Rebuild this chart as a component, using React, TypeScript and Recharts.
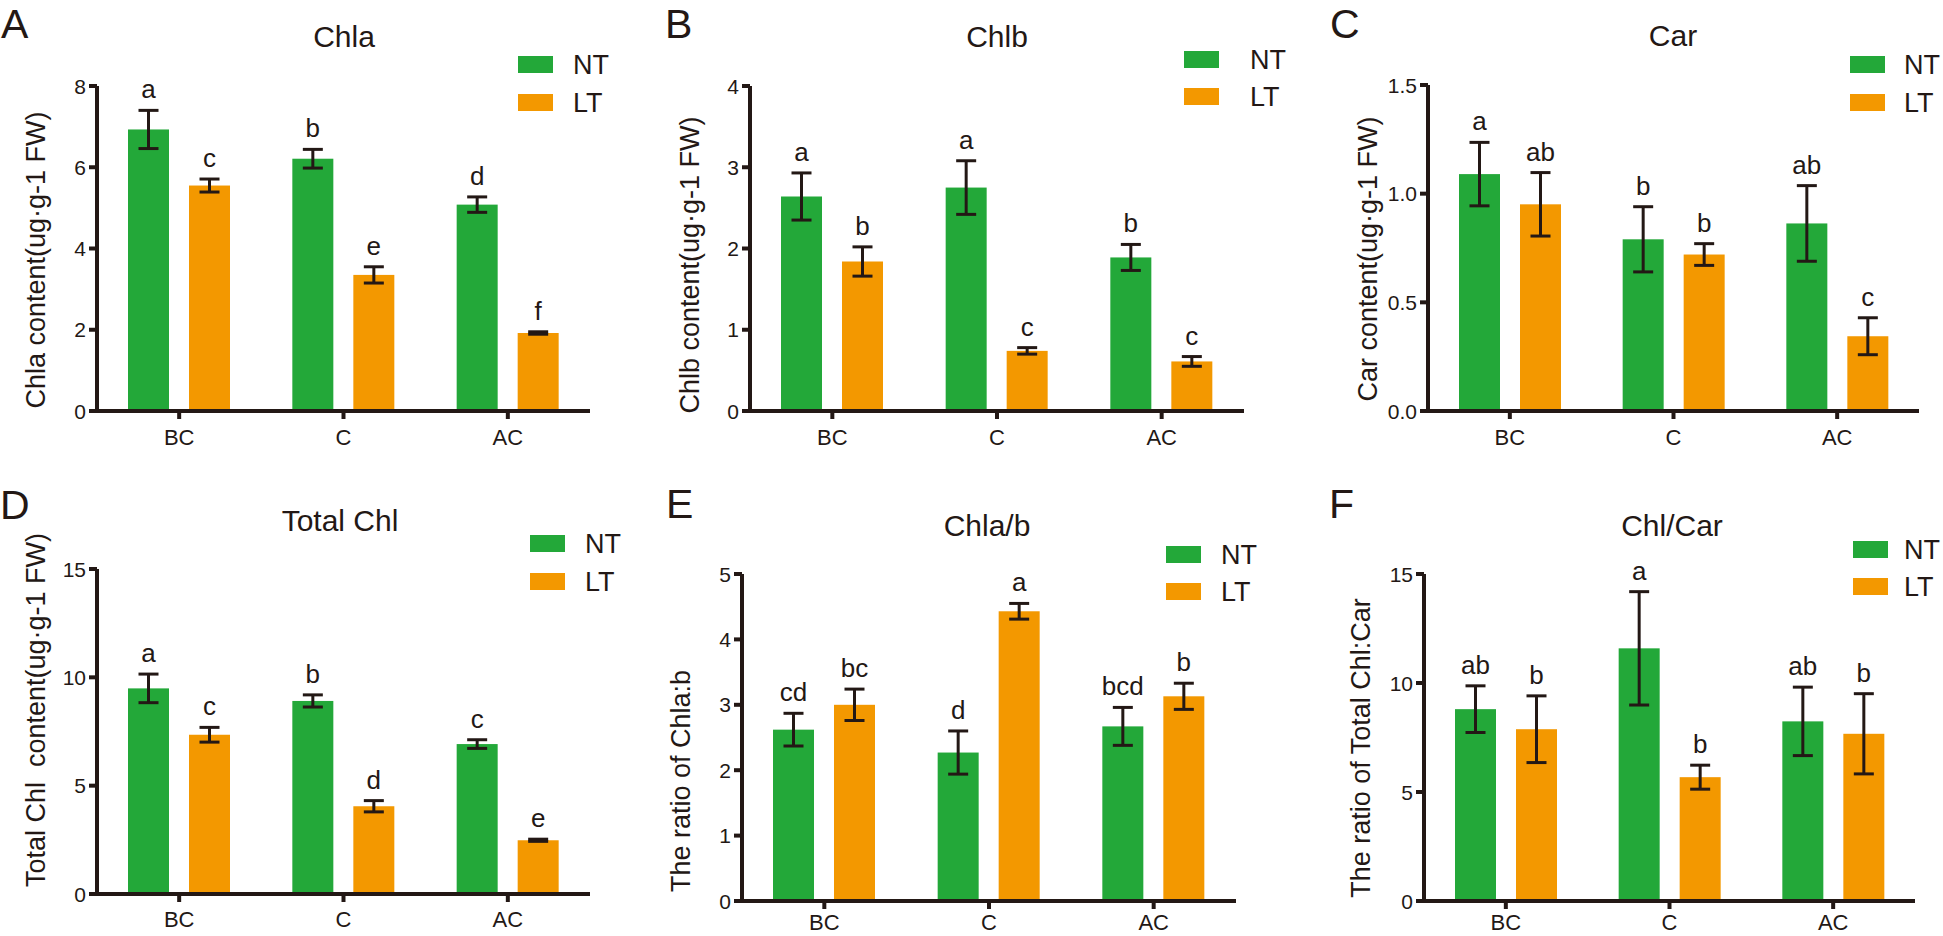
import React from "react";
import { BarChart, Bar, XAxis, YAxis, ErrorBar } from "recharts";

const FONT = "'Liberation Sans', Arial, Helvetica, sans-serif";
const INK = "#231815";
const GREEN = "#23A839";
const ORANGE = "#F39800";

const categories = ["BC", "C", "AC"];

// A  Chla
const chlaNT = [6.93, 6.21, 5.08];
const chlaNTErr = [0.47, 0.23, 0.19];
const chlaLT = [5.55, 3.35, 1.92];
const chlaLTErr = [0.16, 0.2, 0.03];
const chlaNTSig = ["a", "b", "d"];
const chlaLTSig = ["c", "e", "f"];
const chlaTicks = [0, 2, 4, 6, 8];

// B  Chlb
const chlbNT = [2.64, 2.75, 1.89];
const chlbNTErr = [0.29, 0.33, 0.16];
const chlbLT = [1.84, 0.74, 0.61];
const chlbLTErr = [0.18, 0.04, 0.06];
const chlbNTSig = ["a", "a", "b"];
const chlbLTSig = ["b", "c", "c"];
const chlbTicks = [0, 1, 2, 3, 4];

// C  Car
const carNT = [1.09, 0.79, 0.863];
const carNTErr = [0.146, 0.15, 0.174];
const carLT = [0.951, 0.72, 0.344];
const carLTErr = [0.146, 0.05, 0.085];
const carNTSig = ["a", "b", "ab"];
const carLTSig = ["ab", "b", "c"];
const carTicks = [0, 0.5, 1.0, 1.5];

// D  Total Chl
const totNT = [9.49, 8.91, 6.92];
const totNTErr = [0.66, 0.28, 0.2];
const totLT = [7.35, 4.05, 2.48];
const totLTErr = [0.34, 0.26, 0.05];
const totNTSig = ["a", "b", "c"];
const totLTSig = ["c", "d", "e"];
const totTicks = [0, 5, 10, 15];

// E  Chla/b
const abNT = [2.62, 2.27, 2.67];
const abNTErr = [0.25, 0.33, 0.29];
const abLT = [3.0, 4.43, 3.13];
const abLTErr = [0.24, 0.12, 0.2];
const abNTSig = ["cd", "d", "bcd"];
const abLTSig = ["bc", "a", "b"];
const abTicks = [0, 1, 2, 3, 4, 5];

// F  Chl/Car
const ccNT = [8.8, 11.59, 8.24];
const ccNTErr = [1.07, 2.6, 1.57];
const ccLT = [7.88, 5.68, 7.67];
const ccLTErr = [1.53, 0.55, 1.84];
const ccNTSig = ["ab", "a", "ab"];
const ccLTSig = ["b", "b", "b"];
const ccTicks = [0, 5, 10, 15];

type Panel = {
  letter: string;
  title: string;
  yLabel: string;
  nt: number[];
  ntErr: number[];
  lt: number[];
  ltErr: number[];
  ntSig: string[];
  ltSig: string[];
  ticks: number[];
  decimals: number;
  plot: { left: number; top: number; bottom: number; width: number };
  xTickMargin: number;
  letterPos: [number, number];
  titlePos: [number, number];
  legend: { sx: number; ntY: number; ltY: number; tx: number };
  yLabelPos: [number, number];
};

const panels: Panel[] = [
  {
    letter: "A", title: "Chla", yLabel: "Chla content(ug·g-1 FW)",
    nt: chlaNT, ntErr: chlaNTErr, lt: chlaLT, ltErr: chlaLTErr, ntSig: chlaNTSig, ltSig: chlaLTSig,
    ticks: chlaTicks, decimals: 0,
    plot: { left: 97, top: 86, bottom: 411, width: 493 },
    xTickMargin: 10,
    letterPos: [1, 38], titlePos: [344, 47],
    legend: { sx: 518, ntY: 56, ltY: 94, tx: 573 },
    yLabelPos: [45, 260],
  },
  {
    letter: "B", title: "Chlb", yLabel: "Chlb content(ug·g-1 FW)",
    nt: chlbNT, ntErr: chlbNTErr, lt: chlbLT, ltErr: chlbLTErr, ntSig: chlbNTSig, ltSig: chlbLTSig,
    ticks: chlbTicks, decimals: 0,
    plot: { left: 750, top: 86, bottom: 411, width: 494 },
    xTickMargin: 10,
    letterPos: [665, 38], titlePos: [997, 47],
    legend: { sx: 1184, ntY: 51, ltY: 88, tx: 1250 },
    yLabelPos: [699, 265],
  },
  {
    letter: "C", title: "Car", yLabel: "Car content(ug·g-1 FW)",
    nt: carNT, ntErr: carNTErr, lt: carLT, ltErr: carLTErr, ntSig: carNTSig, ltSig: carLTSig,
    ticks: carTicks, decimals: 1,
    plot: { left: 1428, top: 85, bottom: 411, width: 491 },
    xTickMargin: 10,
    letterPos: [1330, 38], titlePos: [1673, 46],
    legend: { sx: 1850, ntY: 56, ltY: 94, tx: 1904 },
    yLabelPos: [1377, 259],
  },
  {
    letter: "D", title: "Total Chl", yLabel: "Total Chl  content(ug·g-1 FW)",
    nt: totNT, ntErr: totNTErr, lt: totLT, ltErr: totLTErr, ntSig: totNTSig, ltSig: totLTSig,
    ticks: totTicks, decimals: 0,
    plot: { left: 97, top: 569, bottom: 894, width: 493 },
    xTickMargin: 9,
    letterPos: [0, 519], titlePos: [340, 531],
    legend: { sx: 530, ntY: 535, ltY: 573, tx: 585 },
    yLabelPos: [45, 710],
  },
  {
    letter: "E", title: "Chla/b", yLabel: "The ratio of Chla:b",
    nt: abNT, ntErr: abNTErr, lt: abLT, ltErr: abLTErr, ntSig: abNTSig, ltSig: abLTSig,
    ticks: abTicks, decimals: 0,
    plot: { left: 742, top: 574, bottom: 901, width: 494 },
    xTickMargin: 5,
    letterPos: [666, 518], titlePos: [987, 536],
    legend: { sx: 1166, ntY: 546, ltY: 583, tx: 1221 },
    yLabelPos: [690, 781],
  },
  {
    letter: "F", title: "Chl/Car", yLabel: "The ratio of Total Chl:Car",
    nt: ccNT, ntErr: ccNTErr, lt: ccLT, ltErr: ccLTErr, ntSig: ccNTSig, ltSig: ccLTSig,
    ticks: ccTicks, decimals: 0,
    plot: { left: 1424, top: 574, bottom: 901, width: 491 },
    xTickMargin: 5,
    letterPos: [1329, 518], titlePos: [1672, 536],
    legend: { sx: 1853, ntY: 541, ltY: 578, tx: 1904 },
    yLabelPos: [1370, 748],
  },
];

const Y_W = 80;
const X_H = 50;
const M_TOP = 20;
const M_RIGHT = 10;

// bar with the significance letter sitting above its error bar
function barWithLetter(vals: number[], errs: number[], sig: string[]) {
  return (props: any) => {
    const { x, y, width, height, fill, payload } = props;
    const i = categories.indexOf(payload?.cat);
    const v = vals[i];
    const perUnit = v ? height / v : 0;
    const errTop = y - errs[i] * perUnit;
    return (
      <g>
        <rect x={x} y={y} width={width} height={height} fill={fill} />
        <text x={x + width / 2} y={errTop - 12} textAnchor="middle" fontSize={26} fill={INK} fontFamily={FONT}>
          {sig[i]}
        </text>
      </g>
    );
  };
}

function XTick(props: any) {
  const { x, y, payload } = props;
  return (
    <text x={x} y={y} dy="0.71em" textAnchor="middle" fontSize={22} fill={INK} fontFamily={FONT}>
      {payload.value}
    </text>
  );
}

function makeYTick(decimals: number) {
  return (props: any) => {
    const { x, y, payload } = props;
    return (
      <text x={x} y={y} dy="0.36em" textAnchor="end" fontSize={21} fill={INK} fontFamily={FONT}>
        {Number(payload.value).toFixed(decimals)}
      </text>
    );
  };
}

function PanelChart({ p }: { p: Panel }) {
  const data = categories.map((cat, i) => ({
    cat,
    nt: p.nt[i],
    ntErr: p.ntErr[i],
    lt: p.lt[i],
    ltErr: p.ltErr[i],
  }));
  const plotH = p.plot.bottom - p.plot.top;
  const max = p.ticks[p.ticks.length - 1];
  return (
    <div style={{ position: "absolute", left: p.plot.left - Y_W, top: p.plot.top - M_TOP }}>
      <BarChart
        width={Y_W + p.plot.width + M_RIGHT}
        height={M_TOP + plotH + X_H}
        data={data}
        margin={{ top: M_TOP, right: M_RIGHT, bottom: 0, left: 0 }}
        barSize={41}
        barGap={20}
      >
        <XAxis
          dataKey="cat"
          height={X_H}
          axisLine={{ stroke: INK, strokeWidth: 4 }}
          tickLine={{ stroke: INK, strokeWidth: 4 }}
          tickSize={8}
          tickMargin={p.xTickMargin}
          tick={<XTick />}
        />
        <YAxis
          width={Y_W}
          domain={[0, max]}
          ticks={p.ticks}
          interval={0}
          axisLine={{ stroke: INK, strokeWidth: 4 }}
          tickLine={{ stroke: INK, strokeWidth: 4 }}
          tickSize={8}
          tickMargin={3}
          tick={makeYTick(p.decimals)}
        />
        <Bar dataKey="nt" fill={GREEN} isAnimationActive={false} shape={barWithLetter(p.nt, p.ntErr, p.ntSig)}>
          <ErrorBar dataKey="ntErr" width={10} strokeWidth={3} stroke={INK} direction="y" isAnimationActive={false} />
        </Bar>
        <Bar dataKey="lt" fill={ORANGE} isAnimationActive={false} shape={barWithLetter(p.lt, p.ltErr, p.ltSig)}>
          <ErrorBar dataKey="ltErr" width={10} strokeWidth={3} stroke={INK} direction="y" isAnimationActive={false} />
        </Bar>
      </BarChart>
    </div>
  );
}

function Decorations({ p }: { p: Panel }) {
  const { legend } = p;
  return (
    <g fontFamily={FONT} fill={INK}>
      <text x={p.letterPos[0]} y={p.letterPos[1]} fontSize={41}>{p.letter}</text>
      <text x={p.titlePos[0]} y={p.titlePos[1]} fontSize={30} textAnchor="middle">{p.title}</text>
      <rect x={legend.sx} y={legend.ntY} width={35} height={17} fill={GREEN} />
      <rect x={legend.sx} y={legend.ltY} width={35} height={17} fill={ORANGE} />
      <text x={legend.tx} y={legend.ntY + 18} fontSize={27}>NT</text>
      <text x={legend.tx} y={legend.ltY + 18} fontSize={27}>LT</text>
      <text
        x={p.yLabelPos[0]}
        y={p.yLabelPos[1]}
        fontSize={27}
        textAnchor="middle"
        transform={`rotate(-90, ${p.yLabelPos[0]}, ${p.yLabelPos[1]})`}
        style={{ whiteSpace: "pre" }}
      >
        {p.yLabel}
      </text>
    </g>
  );
}

export default function App() {
  return (
    <div style={{ position: "relative", width: 1943, height: 936, background: "#fff", overflow: "hidden" }}>
      <style>{`body{margin:0}`}</style>
      {panels.map((p) => (
        <PanelChart key={p.letter} p={p} />
      ))}
      <svg width={1943} height={936} style={{ position: "absolute", left: 0, top: 0, pointerEvents: "none" }}>
        {panels.map((p) => (
          <Decorations key={p.letter} p={p} />
        ))}
      </svg>
    </div>
  );
}
